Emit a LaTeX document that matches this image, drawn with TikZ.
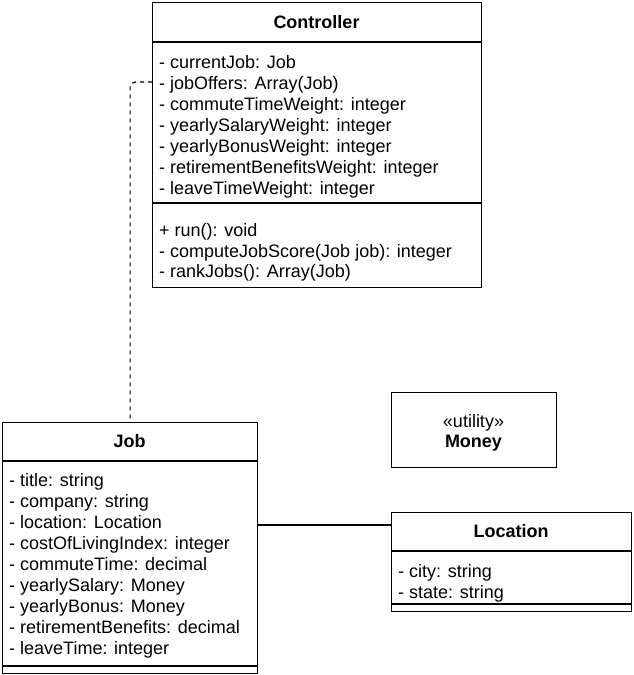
\documentclass[tikz,border=0pt]{standalone}
\usepackage{fontspec}
\setmainfont{Liberation Sans}
\begin{document}
\begin{tikzpicture}[x=1pt,y=-1pt,
  classbox/.style={draw, line width=1.2pt, anchor=north west, inner sep=0pt},
  txt/.style={font=\fontsize{18}{21}\selectfont, anchor=west, inner sep=0pt, text height=13pt, text depth=0pt},
  ttl/.style={font=\fontsize{18}{21}\selectfont\bfseries, inner sep=0pt, text height=13pt, text depth=0pt},
  sep/.style={line width=1.2pt},
  conn/.style={line width=1.2pt}]
\useasboundingbox (0,0) rectangle (633,675);
% Controller
\node[classbox, minimum width=329pt, minimum height=285pt] (ctrl) at (152,2) {};
\draw[sep] (ctrl.west |- 0,42) -- (ctrl.east |- 0,42);
\draw[sep] (ctrl.west |- 0,203) -- (ctrl.east |- 0,203);
\node[ttl] (ctrlt) at (316.5,22) {Controller};
\node[txt] (c1) at (159,62) {- currentJob: Job};
\node[txt] (c2) at (159,83) {- jobOffers: Array(Job)};
\node[txt] (c3) at (159,104) {- commuteTimeWeight: integer};
\node[txt] (c4) at (159,125) {- yearlySalaryWeight: integer};
\node[txt] (c5) at (159,146) {- yearlyBonusWeight: integer};
\node[txt] (c6) at (159,167) {- retirementBenefitsWeight: integer};
\node[txt] (c7) at (159,188) {- leaveTimeWeight: integer};
\node[txt] (m1) at (159,230) {+ run(): void};
\node[txt] (m2) at (159,251) {- computeJobScore(Job job): integer};
\node[txt] (m3) at (159,271) {- rankJobs(): Array(Job)};
% Job
\node[classbox, minimum width=255pt, minimum height=251pt] (job) at (2,422) {};
\draw[sep] (job.west |- 0,461) -- (job.east |- 0,461);
\draw[sep] (job.west |- 0,666) -- (job.east |- 0,666);
\node[ttl] (jobt) at (129.5,441) {Job};
\node[txt] (j1) at (9,480) {- title: string};
\node[txt] (j2) at (9,501) {- company: string};
\node[txt] (j3) at (9,522) {- location: Location};
\node[txt] (j4) at (9,543) {- costOfLivingIndex: integer};
\node[txt] (j5) at (9,564) {- commuteTime: decimal};
\node[txt] (j6) at (9,585) {- yearlySalary: Money};
\node[txt] (j7) at (9,606) {- yearlyBonus: Money};
\node[txt] (j8) at (9,627) {- retirementBenefits: decimal};
\node[txt] (j9) at (9,648) {- leaveTime: integer};
% Money
\node[classbox, minimum width=165pt, minimum height=75pt] (money) at (391,392) {};
\node[txt, anchor=center] (mst) at (473.5,421) {«utility»};
\node[ttl] (mt) at (473.5,441) {Money};
% Location
\node[classbox, minimum width=240pt, minimum height=99pt] (loc) at (391,512) {};
\draw[sep] (loc.west |- 0,551) -- (loc.east |- 0,551);
\draw[sep] (loc.west |- 0,604) -- (loc.east |- 0,604);
\node[ttl] (loct) at (511,531) {Location};
\node[txt] (l1) at (398,571) {- city: string};
\node[txt] (l2) at (398,592) {- state: string};
% connectors
\draw[conn, dash pattern=on 4pt off 4pt, rounded corners=5pt] (ctrl.west |- 0,82) -| (job.north);
\draw[conn] (job.east |- 0,525) -- (loc.west |- 0,525);
\end{tikzpicture}
\end{document}
